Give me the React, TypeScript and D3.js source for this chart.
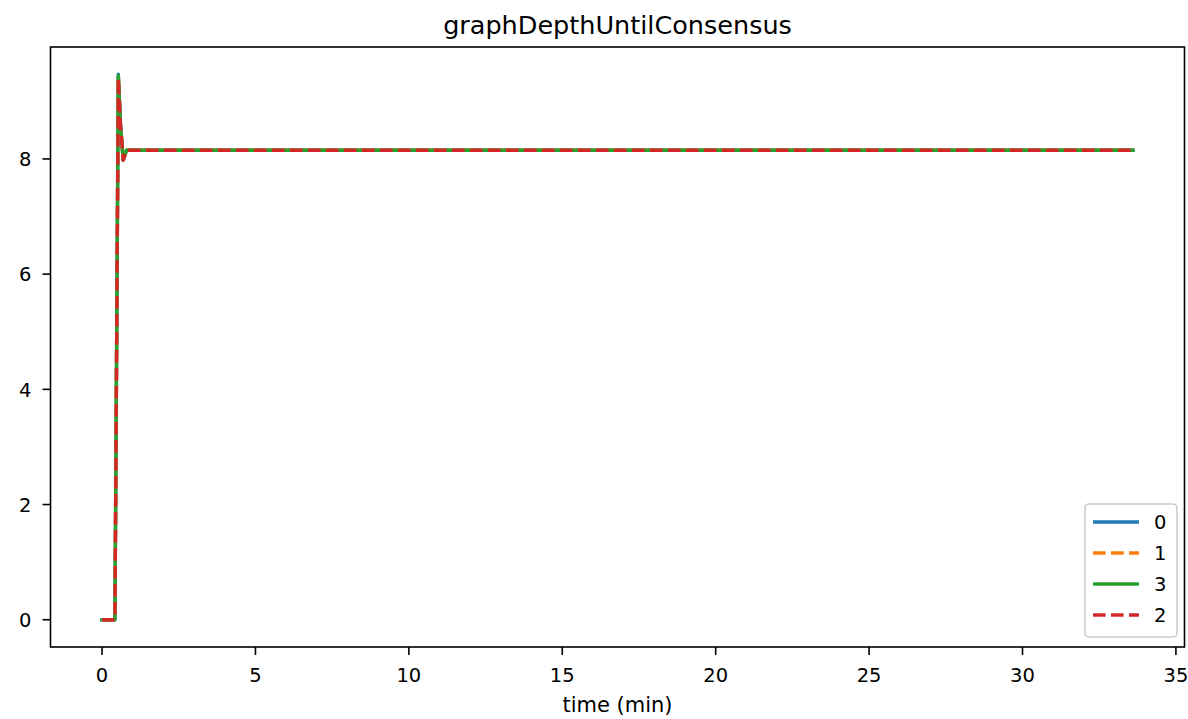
import React from "react";
import * as d3 from "d3";

const W = 1188;
const H = 719;

const times = [0, 0.1, 0.2, 0.3, 0.42, 0.53, 0.6, 0.69, 0.8, 1.5, 5, 10, 15, 20, 25, 30, 33.6];
const series0 = [0, 0, 0, 0, 0, 9.47, 8.6, 7.98, 8.15, 8.15, 8.15, 8.15, 8.15, 8.15, 8.15, 8.15, 8.15];
const series1 = [0, 0, 0, 0, 0, 9.45, 8.6, 7.98, 8.15, 8.15, 8.15, 8.15, 8.15, 8.15, 8.15, 8.15, 8.15];
const series3 = [0, 0, 0, 0, 0, 9.45, 8.6, 7.98, 8.15, 8.15, 8.15, 8.15, 8.15, 8.15, 8.15, 8.15, 8.15];
const series2 = [0, 0, 0, 0, 0, 9.4, 8.6, 7.98, 8.15, 8.15, 8.15, 8.15, 8.15, 8.15, 8.15, 8.15, 8.15];

const seriesNames = ["0", "1", "3", "2"];
const seriesColors = ["#1f77b4", "#ff7f0e", "#2ca02c", "#d62728"];
const seriesDashed = [false, true, false, true];
const seriesValues = [series0, series1, series3, series2];

const xTicks = [0, 5, 10, 15, 20, 25, 30, 35];
const yTicks = [0, 2, 4, 6, 8];

const left = 50.5;
const right = 1184.5;
const top = 47;
const bottom = 647;

export default function App() {
  const x = d3.scaleLinear().domain([-1.68, 35.28]).range([left, right]);
  const y = d3.scaleLinear().domain([-0.4735, 9.9435]).range([bottom, top]);
  const line = d3
    .line<[number, number]>()
    .x((d) => x(d[0]))
    .y((d) => y(d[1]));
  const font = "'DejaVu Sans', sans-serif";
  const legendX = 1085;
  const legendY = 504;
  return (
    <svg
      width={W}
      height={H}
      style={{ position: "absolute", left: 0, top: 0, background: "#fff" }}
      fontFamily={font}
    >
      <rect x={0} y={0} width={W} height={H} fill="#fff" />
      <defs>
        <clipPath id="plotclip">
          <rect x={left} y={top} width={right - left} height={bottom - top} />
        </clipPath>
      </defs>
      <g clipPath="url(#plotclip)">
        {seriesValues.map((vals, i) => (
          <path
            key={i}
            d={line(times.map((t, j) => [t, vals[j]] as [number, number])) || ""}
            fill="none"
            stroke={seriesColors[i]}
            strokeWidth={3.4}
            strokeDasharray={seriesDashed[i] ? "12.6,5.4" : undefined}
            strokeLinejoin="round"
            strokeLinecap={seriesDashed[i] ? "butt" : "square"}
          />
        ))}
      </g>
      <rect
        x={left}
        y={top}
        width={right - left}
        height={bottom - top}
        fill="none"
        stroke="#000"
        strokeWidth={1.6}
      />
      {xTicks.map((t) => (
        <g key={t}>
          <line x1={x(t)} x2={x(t)} y1={bottom} y2={bottom + 8} stroke="#000" strokeWidth={1.6} />
          <text x={x(t)} y={682} textAnchor="middle" fontSize={19.5} fill="#000">
            {t}
          </text>
        </g>
      ))}
      {yTicks.map((t) => (
        <g key={t}>
          <line x1={left - 8} x2={left} y1={y(t)} y2={y(t)} stroke="#000" strokeWidth={1.6} />
          <text x={left - 19} y={y(t) + 7.3} textAnchor="end" fontSize={19.5} fill="#000">
            {t}
          </text>
        </g>
      ))}
      <text x={(left + right) / 2} y={34} textAnchor="middle" fontSize={25.5} fill="#000">
        graphDepthUntilConsensus
      </text>
      <text x={(left + right) / 2} y={712} textAnchor="middle" fontSize={21} fill="#000">
        time (min)
      </text>
      <rect
        x={legendX}
        y={legendY}
        width={92}
        height={133}
        rx={4}
        fill="#fff"
        fillOpacity={0.8}
        stroke="#cccccc"
        strokeWidth={1.6}
      />
      {seriesNames.map((n, i) => {
        const ly = 522 + i * 31;
        return (
          <g key={n}>
            <line
              x1={1093}
              x2={1139}
              y1={ly}
              y2={ly}
              stroke={seriesColors[i]}
              strokeWidth={3.4}
              strokeDasharray={seriesDashed[i] ? "12.6,5.4" : undefined}
            />
            <text x={1154} y={ly + 7.3} fontSize={19.5} fill="#000">
              {n}
            </text>
          </g>
        );
      })}
    </svg>
  );
}
